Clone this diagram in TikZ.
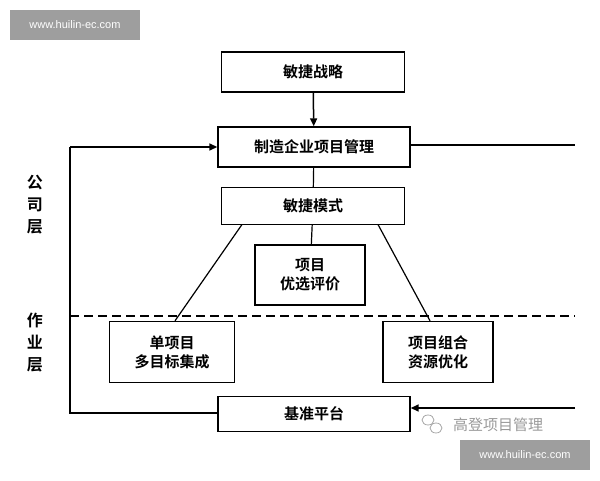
\documentclass[tikz,border=0pt]{standalone}
\usepackage{fontspec}
\newfontfamily\cjk{Noto Sans CJK SC}[BoldFont={Noto Sans CJK SC Bold}]
\usetikzlibrary{arrows.meta}
\begin{document}
\begin{tikzpicture}[x=1pt,y=-1pt,
  bx/.style={draw,line width=1.4pt,font=\cjk\bfseries\fontsize{15}{19}\selectfont,align=center,inner sep=0pt},
  ln/.style={line width=1.2pt},
  ar/.style={line width=1.5pt,-{Triangle[length=8pt,width=7pt]}},
  wm/.style={fill=black!38,text=white,font=\fontspec{Liberation Sans}\fontsize{11}{12}\selectfont,minimum width=130,minimum height=30,inner sep=0pt}]
\useasboundingbox (0,0) rectangle (600,480);
\node[wm] (w1) at (75,25) {www.huilin-ec.com};
\node[wm] (w2) at (525,455) {www.huilin-ec.com};
\node[bx,minimum width=183,minimum height=40] (s) at (313,72) {敏捷战略};
\node[bx,minimum width=192,minimum height=40] (m) at (314,147) {制造企业项目管理};
\node[bx,minimum width=183,minimum height=37] (a) at (313,206) {敏捷模式};
\node[bx,minimum width=110,minimum height=60] (p) at (310,275) {项目\\优选评价};
\node[bx,minimum width=125,minimum height=61] (d) at (172,352) {单项目\\多目标集成};
\node[bx,minimum width=110,minimum height=61] (r) at (438,352) {项目组合\\资源优化};
\node[bx,minimum width=192,minimum height=35] (b) at (314,414) {基准平台};
\node[font=\cjk\bfseries\fontsize{16}{22}\selectfont,align=center] (l1) at (35,205) {公\\司\\层};
\node[font=\cjk\bfseries\fontsize{16}{22}\selectfont,align=center] (l2) at (35,343) {作\\业\\层};
\node[font=\cjk\fontsize{15}{17}\selectfont,text=black!40] (g) at (498,425) {高登项目管理};
\draw[black!35,line width=0.8pt] (428,420) ellipse (6 and 5);
\draw[black!35,line width=0.8pt] (436,428) ellipse (6 and 5);
\coordinate (lc) at (70,147);
\coordinate (lb) at (70,413);
\coordinate (rr) at (575,145);
\coordinate (rb) at (575,408);
\coordinate (dl) at (70,316);
\coordinate (dr) at (575,316);
\draw[ar] (s) -- (m);
\draw[ln] (m) -- (a);
\draw[ln] (a) -- (p);
\draw[ar] (lc) -- (m.west);
\draw[ln] (lc) -- (lb) -- (b.west|-lb);
\draw[ln] (m.east|-rr) -- (rr);
\draw[ar] (rb) -- (b.east|-rb);
\draw[ln] (242,224.5) -- (d.north-|175,0);
\draw[ln] (378,224.5) -- (r.north-|430,0);
\draw[line width=1.5pt,dash pattern=on 9pt off 5pt] (dl) -- (dr);
\end{tikzpicture}
\end{document}
